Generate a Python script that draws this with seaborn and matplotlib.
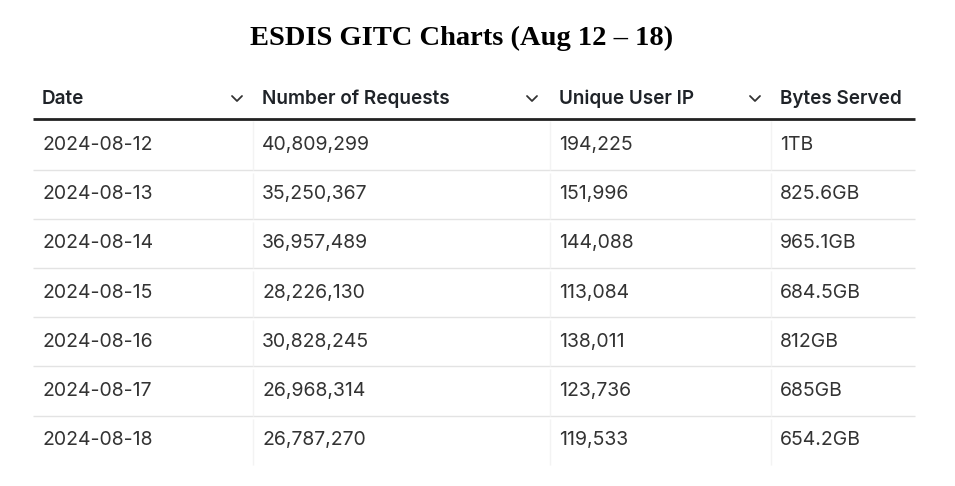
import matplotlib
matplotlib.use("Agg")
import matplotlib.pyplot as plt
import seaborn as sns

sns.set_theme(style="white")

title = "ESDIS GITC Charts (Aug 12 – 18)"
columns = ["Date", "Number of Requests", "Unique User IP", "Bytes Served"]
dates = ["2024-08-12", "2024-08-13", "2024-08-14", "2024-08-15", "2024-08-16", "2024-08-17", "2024-08-18"]
requests = ["40,809,299", "35,250,367", "36,957,489", "28,226,130", "30,828,245", "26,968,314", "26,787,270"]
unique_ips = ["194,225", "151,996", "144,088", "113,084", "138,011", "123,736", "119,533"]
bytes_served = ["1TB", "825.6GB", "965.1GB", "684.5GB", "812GB", "685GB", "654.2GB"]

fig = plt.figure(figsize=(9.55, 4.86), dpi=100)
ax = fig.add_axes([0, 0, 1, 1])
ax.set_xlim(0, 955)
ax.set_ylim(486, 0)
ax.axis("off")

ax.text(462, 38, title, ha="center", va="center", fontsize=20.5, fontweight="bold",
        family="Liberation Serif", color="black")

col_x = [42, 262, 559, 780]
chev_x = [237, 532, 755]
hy = 99
for x, c in zip(col_x, columns):
    ax.text(x, hy, c, ha="left", va="center", fontsize=13.6, fontweight="semibold",
            family="Inter", color="#1f2328")
for cx in chev_x:
    ax.plot([cx - 5, cx, cx + 5], [hy - 3, hy + 2, hy - 3], color="#333", lw=1.3)

ax.hlines(119, 33, 915, color="#222", lw=2)
row_y0, step = 145, 49.2
data = list(zip(dates, requests, unique_ips, bytes_served))
for i, row in enumerate(data):
    y = row_y0 + i * step
    for x, v in zip(col_x, row):
        ax.text(x, y, v, ha="left", va="center", fontsize=14, family="Inter", color="#333")
    top = y - step / 2
    bottom = y + step / 2
    if i < len(data) - 1:
        ax.hlines(bottom, 33, 915, color="#e3e3e3", lw=1)
    for vx in [253, 550, 771]:
        ax.vlines(vx, top + 3 if i else 121, bottom, color="#f3f3f3", lw=1)

fig.savefig("out.png", dpi=100)
